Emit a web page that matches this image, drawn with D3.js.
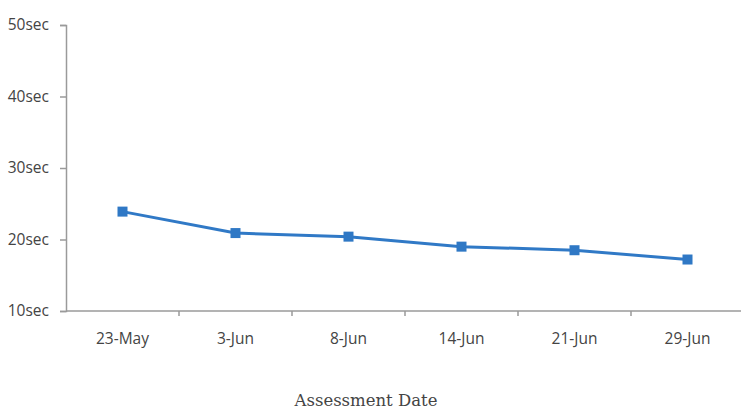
<!DOCTYPE html>
<html>
<head>
<meta charset="utf-8">
<script src="https://cdn.jsdelivr.net/npm/d3@7"></script>
<style>
  body { margin: 0; background: #fff; }
  .axis text { font-family: "Open Sans", "DejaVu Sans", sans-serif; font-size: 15.5px; fill: #444; }
  .axis .domain, .axis line { stroke: #9a9a9a; stroke-width: 1.5; }
</style>
</head>
<body>
<svg id="chart" width="741" height="414"></svg>
<script>
'use strict';

const dates = ['23-May', '3-Jun', '8-Jun', '14-Jun', '21-Jun', '29-Jun'];
const seconds = [23.9, 20.9, 20.4, 19.0, 18.5, 17.2];
const yTicks = [10, 20, 30, 40, 50];
const xTitle = 'Assessment Date';

const svg = d3.select('#chart');
const plotLeft = 66, plotRight = 744, plotTop = 25, plotBottom = 311;

const x = d3.scaleBand()
    .domain(dates)
    .range([plotLeft, plotRight]);

const y = d3.scaleLinear()
    .domain([10, 50])
    .range([plotBottom, plotTop]);

// x axis, ticks sit between the categories
const xAxis = svg.append('g')
    .attr('class', 'axis axis--x')
    .attr('transform', 'translate(0,' + plotBottom + ')');
xAxis.append('line')
    .attr('class', 'domain')
    .attr('x1', plotLeft).attr('x2', plotRight);
xAxis.selectAll('line.tick')
    .data(dates)
    .enter().append('line')
    .attr('class', 'tick')
    .attr('x1', d => x(d) + x.bandwidth())
    .attr('x2', d => x(d) + x.bandwidth())
    .attr('y1', 0).attr('y2', 5);
xAxis.selectAll('text')
    .data(dates)
    .enter().append('text')
    .attr('x', d => x(d) + x.bandwidth() / 2)
    .attr('y', 33)
    .style('text-anchor', 'middle')
    .text(d => d);

//noinspection JSUnresolvedFunction
const yAxis = d3.axisLeft(y)
    .tickValues(yTicks)
    .tickSize(6)
    .tickSizeOuter(6)
    .tickPadding(11)
    .tickFormat(d => d + 'sec');
svg.append('g')
    .attr('class', 'axis axis--y')
    .attr('transform', 'translate(' + plotLeft + ',0)')
    .call(yAxis);

//
// Series line and markers
//
const line = d3.line()
    .x((d, i) => x(dates[i]) + x.bandwidth() / 2)
    .y(d => y(d));

svg.append('path')
    .datum(seconds)
    .attr('fill', 'none')
    .attr('stroke', '#3079c6')
    .attr('stroke-width', 3)
    .attr('d', line);

svg.selectAll('rect.marker')
    .data(seconds)
    .enter().append('rect')
    .attr('class', 'marker')
    .attr('x', (d, i) => x(dates[i]) + x.bandwidth() / 2 - 5)
    .attr('y', d => y(d) - 5)
    .attr('width', 10)
    .attr('height', 10)
    .attr('fill', '#2f78c5');

svg.append('text')
    .attr('x', 366)
    .attr('y', 406)
    .style('text-anchor', 'middle')
    .style('font-family', '"DejaVu Serif", "Liberation Serif", serif')
    .style('font-size', '16.5px')
    .style('fill', '#444')
    .text(xTitle);
</script>
</body>
</html>
